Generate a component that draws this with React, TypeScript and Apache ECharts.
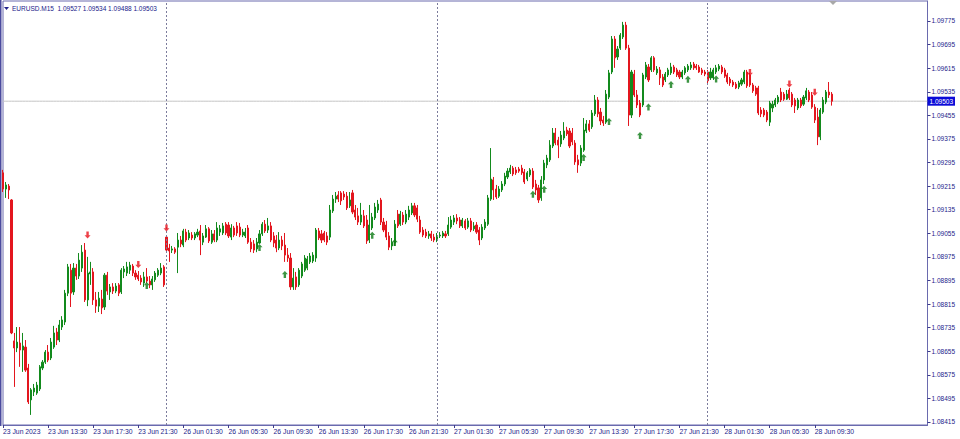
import { useEffect, useRef } from 'react';
import * as echarts from 'echarts';

// Each bar: [open, high, low, close]
type Bar = [number, number, number, number];

const SYMBOL = 'EURUSD.M15';
const YEAR = '2023';

// Trading sessions shown (M15 bars), start time in minutes after midnight
const DAY_SPANS = [
  { day: '23 Jun', startMin: 570, bars: 58 },
  { day: '26 Jun', startMin: 0, bars: 96 },
  { day: '27 Jun', startMin: 0, bars: 96 },
  { day: '28 Jun', startMin: 0, bars: 45 },
];
const FUTURE_SLOTS = 34; // empty space on the right (chart shift)

const jun23: Bar[] = [
  [1.09260, 1.09270, 1.09195, 1.09205], [1.09205, 1.09229, 1.09175, 1.09219], [1.09215, 1.09222, 1.09171, 1.09202],
  [1.09168, 1.09171, 1.08713, 1.08717], [1.08690, 1.08717, 1.08534, 1.08666], [1.08666, 1.08737, 1.08652, 1.08686],
  [1.08683, 1.08737, 1.08602, 1.08659], [1.08659, 1.08717, 1.08585, 1.08673], [1.08669, 1.08693, 1.08585, 1.08591],
  [1.08598, 1.08612, 1.08476, 1.08483], [1.08490, 1.08530, 1.08439, 1.08524], [1.08517, 1.08544, 1.08503, 1.08530],
  [1.08513, 1.08551, 1.08507, 1.08540], [1.08527, 1.08608, 1.08520, 1.08602], [1.08598, 1.08625, 1.08591, 1.08618],
  [1.08618, 1.08659, 1.08612, 1.08652], [1.08652, 1.08676, 1.08618, 1.08625], [1.08632, 1.08700, 1.08625, 1.08686],
  [1.08669, 1.08741, 1.08663, 1.08717], [1.08720, 1.08734, 1.08676, 1.08693], [1.08693, 1.08761, 1.08686, 1.08744],
  [1.08737, 1.08774, 1.08727, 1.08761], [1.08754, 1.08863, 1.08744, 1.08852], [1.08852, 1.08951, 1.08842, 1.08941],
  [1.08930, 1.08951, 1.08805, 1.08852], [1.08856, 1.08954, 1.08846, 1.08937], [1.08937, 1.08951, 1.08897, 1.08910],
  [1.08910, 1.08988, 1.08900, 1.08964], [1.08937, 1.09015, 1.08924, 1.08991], [1.08998, 1.09022, 1.08822, 1.08829],
  [1.08829, 1.08975, 1.08808, 1.08920], [1.08917, 1.08958, 1.08880, 1.08924], [1.08924, 1.08937, 1.08812, 1.08829],
  [1.08829, 1.08856, 1.08785, 1.08808], [1.08808, 1.08856, 1.08788, 1.08835], [1.08832, 1.08863, 1.08781, 1.08802],
  [1.08805, 1.08920, 1.08795, 1.08913], [1.08913, 1.08924, 1.08846, 1.08859], [1.08856, 1.08883, 1.08829, 1.08873],
  [1.08873, 1.08886, 1.08849, 1.08859], [1.08859, 1.08886, 1.08852, 1.08876], [1.08880, 1.08886, 1.08842, 1.08852],
  [1.08856, 1.08937, 1.08849, 1.08930], [1.08924, 1.08944, 1.08903, 1.08934], [1.08920, 1.08958, 1.08910, 1.08941],
  [1.08930, 1.08958, 1.08917, 1.08947], [1.08944, 1.08951, 1.08910, 1.08920], [1.08920, 1.08930, 1.08897, 1.08907],
  [1.08913, 1.08927, 1.08893, 1.08900], [1.08903, 1.08913, 1.08880, 1.08890], [1.08886, 1.08924, 1.08873, 1.08907],
  [1.08907, 1.08937, 1.08886, 1.08893], [1.08893, 1.08910, 1.08869, 1.08880], [1.08880, 1.08910, 1.08863, 1.08900],
  [1.08897, 1.08927, 1.08890, 1.08920], [1.08913, 1.08937, 1.08907, 1.08930], [1.08920, 1.08954, 1.08913, 1.08937],
  [1.08941, 1.08947, 1.08873, 1.08880],
];

const jun26: Bar[] = [
  [1.09042, 1.09049, 1.08991, 1.08998], [1.09005, 1.09019, 1.08958, 1.08995], [1.08998, 1.09012, 1.08988, 1.09002],
  [1.09002, 1.09008, 1.08985, 1.08991], [1.09008, 1.09056, 1.08920, 1.09032], [1.09032, 1.09046, 1.09008, 1.09019],
  [1.09015, 1.09070, 1.09008, 1.09063], [1.09059, 1.09070, 1.09025, 1.09032], [1.09039, 1.09066, 1.09032, 1.09056],
  [1.09049, 1.09059, 1.09032, 1.09039], [1.09039, 1.09059, 1.09032, 1.09053], [1.09049, 1.09070, 1.09042, 1.09059],
  [1.09063, 1.09083, 1.08981, 1.09032], [1.09025, 1.09056, 1.09015, 1.09046], [1.09042, 1.09083, 1.09039, 1.09070],
  [1.09070, 1.09076, 1.09022, 1.09029], [1.09025, 1.09066, 1.09019, 1.09053], [1.09053, 1.09066, 1.09025, 1.09032],
  [1.09032, 1.09093, 1.09025, 1.09073], [1.09059, 1.09083, 1.09046, 1.09070], [1.09056, 1.09090, 1.09049, 1.09080],
  [1.09086, 1.09093, 1.09049, 1.09056], [1.09083, 1.09093, 1.09039, 1.09046], [1.09042, 1.09086, 1.09032, 1.09073],
  [1.09073, 1.09080, 1.09042, 1.09049], [1.09080, 1.09093, 1.09046, 1.09056], [1.09076, 1.09090, 1.09042, 1.09049],
  [1.09049, 1.09070, 1.09042, 1.09059], [1.09046, 1.09073, 1.09039, 1.09059], [1.09073, 1.09083, 1.09019, 1.09025],
  [1.09025, 1.09039, 1.08991, 1.09002], [1.09019, 1.09032, 1.08988, 1.08998], [1.09002, 1.09039, 1.08991, 1.09025],
  [1.09022, 1.09066, 1.09019, 1.09053], [1.09053, 1.09093, 1.09046, 1.09086], [1.09086, 1.09100, 1.09056, 1.09063],
  [1.09066, 1.09107, 1.09056, 1.09080], [1.09080, 1.09093, 1.09025, 1.09032], [1.09046, 1.09059, 1.09008, 1.09022],
  [1.09032, 1.09049, 1.08991, 1.09005], [1.09005, 1.09059, 1.08998, 1.09032], [1.09032, 1.09046, 1.08998, 1.09012],
  [1.09015, 1.09056, 1.08958, 1.08981], [1.08981, 1.09005, 1.08958, 1.08971], [1.08971, 1.08988, 1.08863, 1.08873],
  [1.08873, 1.08937, 1.08863, 1.08903], [1.08907, 1.08924, 1.08863, 1.08873], [1.08880, 1.08937, 1.08873, 1.08930],
  [1.08910, 1.08958, 1.08903, 1.08951], [1.08930, 1.08981, 1.08924, 1.08971], [1.08937, 1.08978, 1.08930, 1.08968],
  [1.08958, 1.08988, 1.08951, 1.08978], [1.08961, 1.08991, 1.08954, 1.08981], [1.08971, 1.09073, 1.08958, 1.09066],
  [1.09063, 1.09073, 1.09032, 1.09039], [1.09053, 1.09066, 1.09022, 1.09032], [1.09056, 1.09063, 1.09025, 1.09032],
  [1.09046, 1.09059, 1.09015, 1.09025], [1.09042, 1.09151, 1.09032, 1.09134], [1.09131, 1.09185, 1.09124, 1.09171],
  [1.09171, 1.09195, 1.09158, 1.09181], [1.09185, 1.09198, 1.09161, 1.09171], [1.09192, 1.09198, 1.09151, 1.09165],
  [1.09188, 1.09198, 1.09168, 1.09178], [1.09181, 1.09195, 1.09134, 1.09141], [1.09148, 1.09195, 1.09141, 1.09168],
  [1.09192, 1.09202, 1.09120, 1.09127], [1.09134, 1.09151, 1.09100, 1.09110], [1.09114, 1.09141, 1.09083, 1.09093],
  [1.09093, 1.09158, 1.09083, 1.09117], [1.09114, 1.09134, 1.09073, 1.09080], [1.09100, 1.09117, 1.09019, 1.09029],
  [1.09032, 1.09151, 1.09022, 1.09083], [1.09073, 1.09124, 1.09066, 1.09110], [1.09107, 1.09158, 1.09100, 1.09144],
  [1.09134, 1.09168, 1.09124, 1.09154], [1.09168, 1.09175, 1.09083, 1.09093], [1.09093, 1.09107, 1.09059, 1.09066],
  [1.09083, 1.09097, 1.09032, 1.09042], [1.09046, 1.09059, 1.08998, 1.09008], [1.09012, 1.09039, 1.08998, 1.09025],
  [1.09022, 1.09100, 1.09012, 1.09086], [1.09120, 1.09134, 1.09073, 1.09080], [1.09086, 1.09131, 1.09080, 1.09120],
  [1.09117, 1.09127, 1.09083, 1.09093], [1.09093, 1.09134, 1.09086, 1.09120], [1.09110, 1.09148, 1.09100, 1.09134],
  [1.09124, 1.09158, 1.09117, 1.09148], [1.09148, 1.09158, 1.09110, 1.09117], [1.09141, 1.09151, 1.09093, 1.09103],
  [1.09100, 1.09114, 1.09053, 1.09059], [1.09066, 1.09076, 1.09042, 1.09049], [1.09059, 1.09070, 1.09039, 1.09046],
  [1.09046, 1.09063, 1.09036, 1.09053], [1.09053, 1.09063, 1.09029, 1.09039], [1.09042, 1.09053, 1.09025, 1.09032],
];

const jun27: Bar[] = [
  [1.09036, 1.09056, 1.09025, 1.09046], [1.09046, 1.09059, 1.09039, 1.09049], [1.09046, 1.09063, 1.09039, 1.09056],
  [1.09053, 1.09063, 1.09039, 1.09046], [1.09053, 1.09110, 1.09046, 1.09083], [1.09076, 1.09114, 1.09070, 1.09100],
  [1.09093, 1.09117, 1.09083, 1.09107], [1.09107, 1.09120, 1.09086, 1.09097], [1.09100, 1.09110, 1.09073, 1.09080],
  [1.09080, 1.09107, 1.09073, 1.09100], [1.09097, 1.09103, 1.09066, 1.09073], [1.09076, 1.09107, 1.09070, 1.09097],
  [1.09097, 1.09107, 1.09059, 1.09066], [1.09070, 1.09093, 1.09063, 1.09080], [1.09083, 1.09093, 1.09053, 1.09059],
  [1.09066, 1.09076, 1.09015, 1.09032], [1.09039, 1.09086, 1.09032, 1.09076], [1.09073, 1.09103, 1.09066, 1.09093],
  [1.09086, 1.09185, 1.09080, 1.09175], [1.09171, 1.09344, 1.09165, 1.09239], [1.09236, 1.09246, 1.09168, 1.09202],
  [1.09205, 1.09219, 1.09171, 1.09178], [1.09181, 1.09215, 1.09175, 1.09205], [1.09202, 1.09232, 1.09195, 1.09222],
  [1.09222, 1.09260, 1.09215, 1.09249], [1.09246, 1.09276, 1.09239, 1.09266], [1.09263, 1.09287, 1.09256, 1.09276],
  [1.09276, 1.09283, 1.09249, 1.09256], [1.09270, 1.09280, 1.09253, 1.09260], [1.09273, 1.09280, 1.09260, 1.09266],
  [1.09276, 1.09287, 1.09253, 1.09260], [1.09263, 1.09273, 1.09222, 1.09229], [1.09239, 1.09266, 1.09232, 1.09260],
  [1.09253, 1.09276, 1.09246, 1.09270], [1.09266, 1.09276, 1.09205, 1.09212], [1.09222, 1.09236, 1.09185, 1.09202],
  [1.09209, 1.09219, 1.09158, 1.09168], [1.09175, 1.09249, 1.09165, 1.09236], [1.09236, 1.09304, 1.09222, 1.09293],
  [1.09287, 1.09321, 1.09276, 1.09310], [1.09304, 1.09371, 1.09297, 1.09354], [1.09351, 1.09412, 1.09344, 1.09395],
  [1.09395, 1.09412, 1.09354, 1.09361], [1.09371, 1.09382, 1.09310, 1.09354], [1.09358, 1.09402, 1.09348, 1.09388],
  [1.09378, 1.09432, 1.09371, 1.09402], [1.09405, 1.09416, 1.09385, 1.09392], [1.09402, 1.09412, 1.09344, 1.09351],
  [1.09395, 1.09412, 1.09354, 1.09365], [1.09361, 1.09371, 1.09287, 1.09297], [1.09304, 1.09321, 1.09260, 1.09287],
  [1.09293, 1.09354, 1.09283, 1.09344], [1.09337, 1.09446, 1.09331, 1.09405], [1.09402, 1.09439, 1.09395, 1.09426],
  [1.09426, 1.09439, 1.09399, 1.09405], [1.09416, 1.09473, 1.09409, 1.09463], [1.09460, 1.09524, 1.09453, 1.09507],
  [1.09507, 1.09517, 1.09449, 1.09460], [1.09466, 1.09480, 1.09422, 1.09436], [1.09439, 1.09453, 1.09419, 1.09429],
  [1.09432, 1.09541, 1.09426, 1.09527], [1.09517, 1.09609, 1.09510, 1.09599], [1.09602, 1.09724, 1.09595, 1.09714],
  [1.09714, 1.09724, 1.09616, 1.09650], [1.09653, 1.09690, 1.09643, 1.09680], [1.09683, 1.09734, 1.09677, 1.09727],
  [1.09721, 1.09772, 1.09714, 1.09761], [1.09761, 1.09772, 1.09677, 1.09683], [1.09683, 1.09694, 1.09419, 1.09456],
  [1.09456, 1.09609, 1.09446, 1.09602], [1.09595, 1.09609, 1.09517, 1.09524], [1.09524, 1.09541, 1.09480, 1.09490],
  [1.09497, 1.09507, 1.09449, 1.09456], [1.09490, 1.09599, 1.09483, 1.09592], [1.09585, 1.09636, 1.09578, 1.09626],
  [1.09619, 1.09629, 1.09568, 1.09575], [1.09609, 1.09656, 1.09602, 1.09650], [1.09650, 1.09656, 1.09602, 1.09609],
  [1.09599, 1.09622, 1.09592, 1.09612], [1.09609, 1.09619, 1.09558, 1.09582], [1.09585, 1.09595, 1.09551, 1.09558],
  [1.09575, 1.09602, 1.09568, 1.09595], [1.09592, 1.09616, 1.09585, 1.09609], [1.09599, 1.09633, 1.09592, 1.09619],
  [1.09619, 1.09626, 1.09595, 1.09602], [1.09609, 1.09616, 1.09585, 1.09592], [1.09602, 1.09609, 1.09578, 1.09585],
  [1.09585, 1.09609, 1.09578, 1.09602], [1.09599, 1.09622, 1.09592, 1.09616], [1.09609, 1.09629, 1.09602, 1.09622],
  [1.09616, 1.09636, 1.09609, 1.09626], [1.09629, 1.09636, 1.09609, 1.09616], [1.09622, 1.09629, 1.09609, 1.09616],
  [1.09619, 1.09626, 1.09599, 1.09602], [1.09609, 1.09616, 1.09592, 1.09599], [1.09602, 1.09609, 1.09588, 1.09595],
];

const jun28: Bar[] = [
  [1.09602, 1.09609, 1.09561, 1.09572], [1.09582, 1.09616, 1.09575, 1.09602], [1.09582, 1.09616, 1.09575, 1.09609],
  [1.09602, 1.09626, 1.09595, 1.09616], [1.09612, 1.09629, 1.09605, 1.09622], [1.09619, 1.09626, 1.09595, 1.09602],
  [1.09609, 1.09616, 1.09582, 1.09588], [1.09592, 1.09599, 1.09561, 1.09568], [1.09578, 1.09585, 1.09555, 1.09565],
  [1.09568, 1.09575, 1.09551, 1.09558], [1.09561, 1.09568, 1.09544, 1.09548], [1.09551, 1.09572, 1.09544, 1.09565],
  [1.09561, 1.09582, 1.09555, 1.09575], [1.09568, 1.09609, 1.09561, 1.09602], [1.09602, 1.09609, 1.09548, 1.09555],
  [1.09592, 1.09599, 1.09551, 1.09558], [1.09558, 1.09565, 1.09531, 1.09538], [1.09548, 1.09555, 1.09521, 1.09527],
  [1.09548, 1.09555, 1.09456, 1.09463], [1.09473, 1.09483, 1.09449, 1.09460], [1.09473, 1.09480, 1.09449, 1.09456],
  [1.09466, 1.09473, 1.09432, 1.09439], [1.09432, 1.09504, 1.09419, 1.09497], [1.09480, 1.09504, 1.09466, 1.09493],
  [1.09490, 1.09514, 1.09483, 1.09507], [1.09500, 1.09524, 1.09493, 1.09517], [1.09534, 1.09548, 1.09500, 1.09507],
  [1.09527, 1.09534, 1.09504, 1.09510], [1.09510, 1.09541, 1.09507, 1.09527], [1.09541, 1.09548, 1.09507, 1.09514],
  [1.09527, 1.09534, 1.09483, 1.09490], [1.09507, 1.09514, 1.09463, 1.09487], [1.09480, 1.09514, 1.09473, 1.09507],
  [1.09507, 1.09514, 1.09480, 1.09487], [1.09493, 1.09524, 1.09487, 1.09517], [1.09514, 1.09548, 1.09507, 1.09538],
  [1.09534, 1.09541, 1.09500, 1.09507], [1.09524, 1.09534, 1.09477, 1.09483], [1.09483, 1.09493, 1.09429, 1.09439],
  [1.09449, 1.09480, 1.09354, 1.09382], [1.09382, 1.09480, 1.09371, 1.09473], [1.09466, 1.09517, 1.09460, 1.09507],
  [1.09500, 1.09541, 1.09493, 1.09534], [1.09534, 1.09568, 1.09514, 1.09524], [1.09527, 1.09534, 1.09488, 1.09503],
];

// Signal arrows: [bar index, price]
const sellArrows: [number, number][] = [
  [30, 1.09049], [48, 1.08949], [58, 1.09073], [265, 1.09600], [279, 1.09561], [288, 1.09533],
];
const buyArrows: [number, number][] = [
  [51, 1.08878], [91, 1.09007], [100, 1.08915], [131, 1.09048], [139, 1.09024], [188, 1.09187],
  [192, 1.09204], [206, 1.09312], [215, 1.09434], [226, 1.09387], [229, 1.09483], [237, 1.09560],
  [243, 1.09577], [253, 1.09578],
];

const PRICE_TICKS = [
  1.08415, 1.08495, 1.08575, 1.08655, 1.08735, 1.08815, 1.08895, 1.08975, 1.09055,
  1.09135, 1.09215, 1.09295, 1.09375, 1.09455, 1.09535, 1.09615, 1.09695, 1.09775,
];
const PRICE_MIN = 1.084048;
const PRICE_MAX = 1.098428;
const LABEL_EVERY = 16;

const BULL = '#138a1d';
const BEAR = '#e3161e';
const AXIS_COLOR = '#6a6aae';
const TEXT_COLOR = '#22228a';
const FONT = 'Liberation Sans, Arial, sans-serif';

const UP_PATH = 'path://M4,0 L8,4.2 L5.6,4.2 L5.6,9 L2.4,9 L2.4,4.2 L0,4.2 Z';
const DOWN_PATH = 'path://M2.4,0 L5.6,0 L5.6,4.8 L8,4.8 L4,9 L0,4.8 L2.4,4.8 Z';

const pad2 = (n: number) => (n < 10 ? '0' + n : String(n));

function buildCategories(): { cats: string[]; dayStarts: number[] } {
  const cats: string[] = [];
  const dayStarts: number[] = [];
  DAY_SPANS.forEach((s, k) => {
    dayStarts.push(cats.length);
    const total = s.bars + (k === DAY_SPANS.length - 1 ? FUTURE_SLOTS : 0);
    for (let i = 0; i < total; i++) {
      const m = s.startMin + i * 15;
      cats.push(`${s.day} ${pad2(Math.floor(m / 60))}:${pad2(m % 60)}`);
    }
  });
  return { cats, dayStarts };
}

export default function App() {
  const ref = useRef<HTMLDivElement>(null);

  useEffect(() => {
    if (!ref.current) return;
    const chart = echarts.init(ref.current, undefined, { renderer: 'svg' });

    const bars: Bar[] = [...jun23, ...jun26, ...jun27, ...jun28];
    const { cats, dayStarts } = buildCategories();
    const nBars = bars.length;
    const last = bars[nBars - 1];
    const lastClose = last[3];

    const showIdx = (i: number) => i % LABEL_EVERY === 0 && i < nBars;

    const header = `${SYMBOL}  ${last.map((v) => v.toFixed(5)).join(' ')}`;

    const option: any = {
      animation: false,
      backgroundColor: '#ffffff',
      grid: {
        left: 1,
        right: 32.5,
        top: 1,
        bottom: 14,
        show: true,
        borderColor: AXIS_COLOR,
        borderWidth: 1,
      },
      xAxis: {
        type: 'category',
        data: cats,
        boundaryGap: false,
        axisLine: { show: true, lineStyle: { color: AXIS_COLOR, width: 1 } },
        axisTick: { show: true, interval: (i: number) => showIdx(i), length: 3, lineStyle: { color: '#3c3c8c' } },
        axisLabel: {
          interval: (i: number) => showIdx(i),
          formatter: (v: string, i: number) => (i === 0 ? `${v.slice(0, 6)} ${YEAR}` : v),
          align: 'left',
          margin: 3,
          fontSize: 6.8,
          color: TEXT_COLOR,
          fontFamily: FONT,
        },
        splitLine: { show: false },
      },
      yAxis: {
        type: 'value',
        position: 'right',
        min: PRICE_MIN,
        max: PRICE_MAX,
        axisLine: { show: true, lineStyle: { color: AXIS_COLOR, width: 1 } },
        axisTick: { show: true, length: 3, customValues: PRICE_TICKS, lineStyle: { color: '#3c3c8c' } },
        axisLabel: {
          customValues: PRICE_TICKS,
          formatter: (v: number) => v.toFixed(5),
          fontSize: 6.5,
          color: TEXT_COLOR,
          fontFamily: FONT,
          margin: 4,
        },
        splitLine: { show: false },
      },
      series: [
        {
          type: 'candlestick',
          data: bars.map((b) => [b[0], b[3], b[2], b[1]]),
          barWidth: 1.6,
          itemStyle: {
            color: BULL,
            color0: BEAR,
            borderColor: BULL,
            borderColor0: BEAR,
            borderWidth: 1,
          },
          markLine: {
            silent: true,
            symbol: ['none', 'none'],
            animation: false,
            label: { show: false },
            lineStyle: { color: '#7c7c9c', type: [2, 2], width: 1 },
            data: dayStarts.slice(1).map((idx) => ({ xAxis: cats[idx] })),
          },
        },
        {
          type: 'line',
          data: cats.map(() => lastClose),
          showSymbol: false,
          silent: true,
          z: 1,
          lineStyle: { color: '#c4c4c4', width: 1, type: 'solid' },
          endLabel: {
            show: true,
            formatter: () => lastClose.toFixed(5),
            backgroundColor: '#0b0bd8',
            color: '#ffffff',
            fontSize: 6.5,
            fontFamily: FONT,
            padding: [1, 2, 1, 2],
            distance: 0,
          },
        },
        {
          type: 'scatter',
          data: sellArrows,
          symbol: DOWN_PATH,
          symbolSize: [6, 7],
          itemStyle: { color: '#e8101a' },
          silent: true,
          z: 5,
        },
        {
          type: 'scatter',
          data: buyArrows,
          symbol: UP_PATH,
          symbolSize: [6, 7],
          itemStyle: { color: '#0c7a14' },
          silent: true,
          z: 5,
        },
      ],
      graphic: [
        {
          type: 'rect',
          shape: { x: 0, y: 0, width: 1.5, height: 426 },
          style: { fill: '#4a4a9e' },
          z: 100,
        },
        {
          type: 'polygon',
          shape: { points: [[4, 7], [9, 7], [6.5, 10]] },
          style: { fill: '#20208a' },
        },
        {
          type: 'text',
          x: 12,
          y: 5,
          style: { text: header, fill: '#20208a', fontSize: 6.5, fontFamily: FONT },
        },
        {
          type: 'polygon',
          shape: { points: [[829, 1], [837, 1], [833, 5]] },
          style: { fill: '#a8a8a8' },
        },
      ],
    };

    chart.setOption(option);
    return () => chart.dispose();
  }, []);

  return (
    <div
      ref={ref}
      style={{ position: 'fixed', left: 0, top: 0, width: 960, height: 439, background: '#fff' }}
    />
  );
}
